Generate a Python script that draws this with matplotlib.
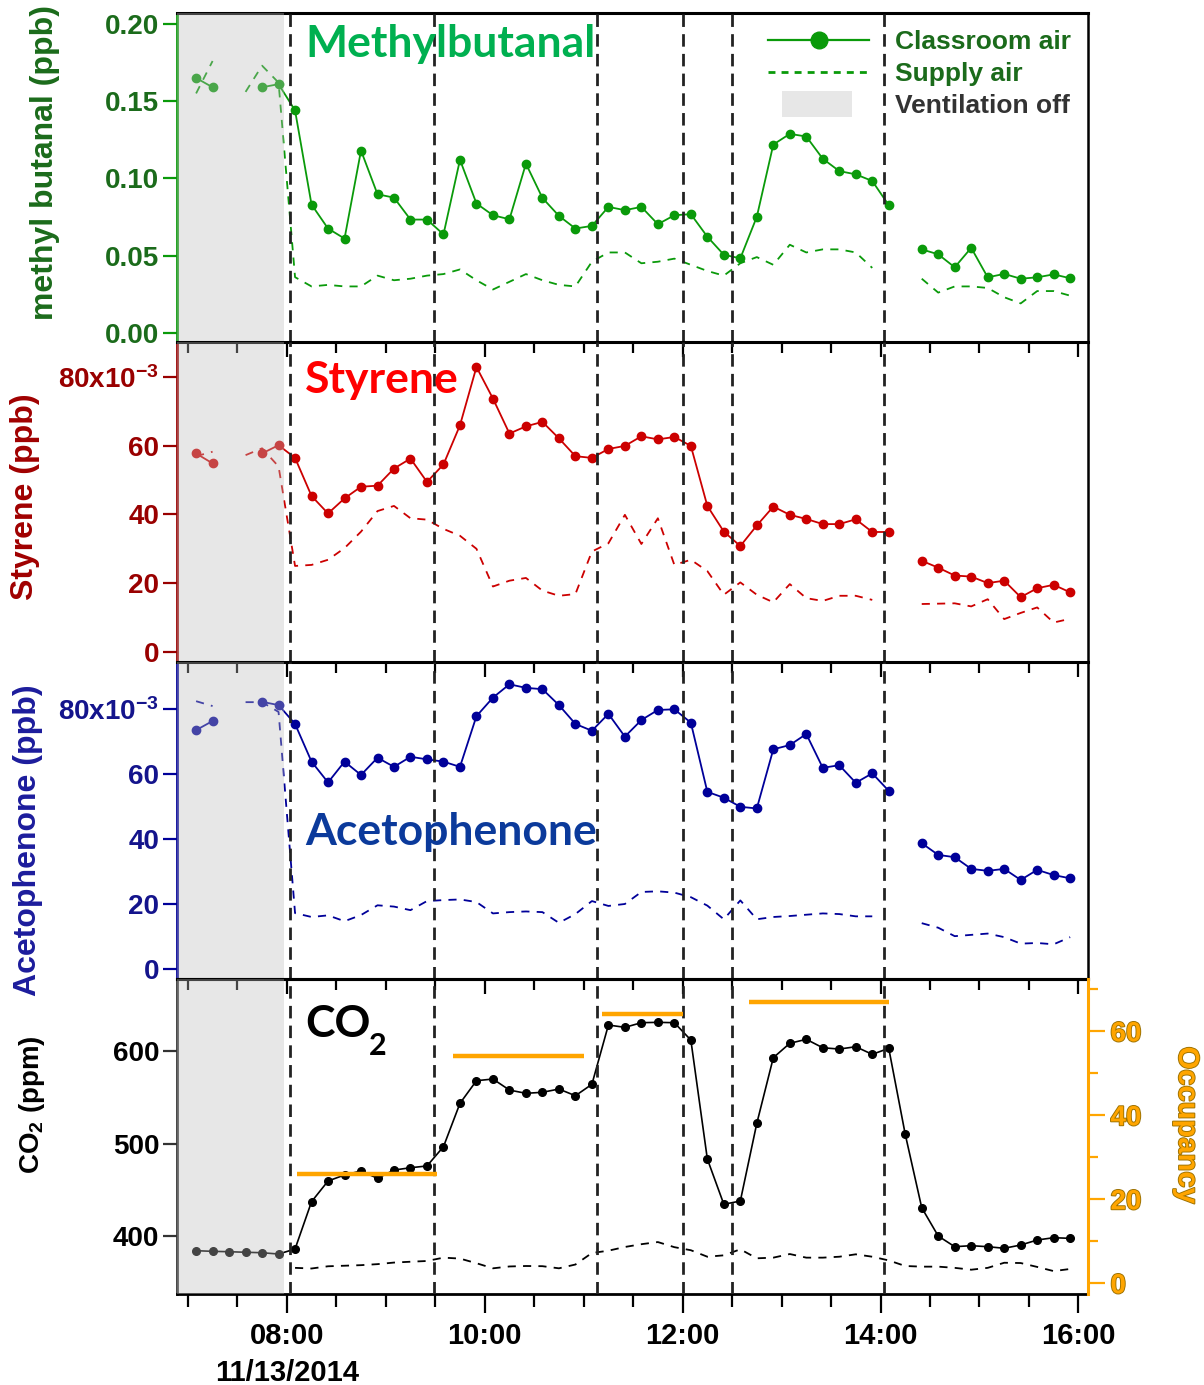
import numpy as np
import matplotlib
matplotlib.use("Agg")
import matplotlib.pyplot as plt
import matplotlib.patches as mpatches
import matplotlib.patheffects as pe
from matplotlib.lines import Line2D
from matplotlib.legend_handler import HandlerPatch
from matplotlib.ticker import FixedLocator, MultipleLocator

nan = np.nan

# ---------------- data ----------------
sample_times = [
    "07:05", "07:15", "07:25", "07:35", "07:45", "07:55",
    "08:05", "08:15", "08:25", "08:35", "08:45", "08:55",
    "09:05", "09:15", "09:25", "09:35", "09:45", "09:55",
    "10:05", "10:15", "10:25", "10:35", "10:45", "10:55",
    "11:05", "11:15", "11:25", "11:35", "11:45", "11:55",
    "12:05", "12:15", "12:25", "12:35", "12:45", "12:55",
    "13:05", "13:15", "13:25", "13:35", "13:45", "13:55",
    "14:05", "14:15", "14:25", "14:35", "14:45", "14:55",
    "15:05", "15:15", "15:25", "15:35", "15:45", "15:55",
]

methylbutanal_room = [
    0.165, 0.159, nan, nan, 0.159, 0.161,
    0.144, 0.083, 0.0675, 0.061, 0.118, 0.0897,
    0.0875, 0.0733, 0.0733, 0.0637, 0.112, 0.0837,
    0.0761, 0.0735, 0.1095, 0.0873, 0.0757, 0.0675,
    0.0692, 0.0815, 0.0794, 0.0815, 0.0703, 0.0761,
    0.0768, 0.0622, 0.0505, 0.0482, 0.0751, 0.1219,
    0.1288, 0.1271, 0.1127, 0.1047, 0.1026, 0.0983,
    0.0826, nan, 0.054, 0.0508, 0.0424, 0.055,
    0.0359, 0.0381, 0.035, 0.0359, 0.0378, 0.0353,
]
methylbutanal_supply = [
    0.155, 0.176, nan, 0.156, 0.173, 0.162,
    0.036, 0.030, 0.031, 0.030, 0.030, 0.037,
    0.034, 0.035, 0.037, 0.038, 0.041, 0.034,
    0.028, 0.033, 0.038, 0.034, 0.031, 0.030,
    0.046, 0.052, 0.052, 0.045, 0.046, 0.048,
    0.044, 0.040, 0.037, 0.045, 0.049, 0.044,
    0.057, 0.052, 0.054, 0.054, 0.052, 0.042,
    nan, nan, 0.035, 0.026, 0.030, 0.030,
    0.029, 0.023, 0.019, 0.027, 0.027, 0.024,
]

# styrene and acetophenone in units of 10^-3 ppb
styrene_room = [
    57.8, 54.9, nan, nan, 57.8, 60.2,
    56.5, 45.4, 40.3, 44.7, 48.1, 48.4,
    53.4, 56.3, 49.5, 54.6, 66.0, 83.0,
    73.8, 63.6, 65.7, 67.0, 62.2, 57.0,
    56.5, 59.1, 60.0, 62.8, 61.9, 62.6,
    60.0, 42.5, 35.0, 30.8, 36.8, 42.3,
    39.9, 38.7, 37.2, 37.2, 38.6, 34.9,
    34.9, nan, 26.5, 24.5, 22.2, 21.9,
    20.0, 20.7, 15.9, 18.5, 19.5, 17.3,
]
styrene_supply = [
    57.0, 58.3, nan, 57.3, 59.3, 54.0,
    25.0, 25.3, 26.8, 30.2, 35.0, 41.0,
    42.5, 38.9, 38.5, 35.8, 33.8, 30.0,
    19.0, 20.7, 21.5, 17.8, 16.3, 16.8,
    29.2, 31.6, 39.9, 31.4, 38.9, 25.3,
    26.8, 23.5, 16.6, 20.2, 16.6, 14.4,
    19.7, 15.6, 14.8, 16.3, 16.3, 15.1,
    nan, nan, 13.9, 14.0, 14.1, 13.2,
    15.3, 9.5, 11.3, 12.9, 8.5, 9.6,
]

acetophenone_room = [
    73.6, 76.4, nan, nan, 82.3, 81.3,
    75.5, 63.9, 57.5, 63.9, 59.8, 65.1,
    62.3, 65.4, 64.6, 63.9, 62.3, 77.9,
    83.6, 87.7, 86.6, 86.2, 81.3, 75.5,
    73.4, 78.6, 71.6, 76.7, 79.8, 80.0,
    75.9, 54.6, 52.8, 50.0, 49.5, 67.7,
    69.0, 72.4, 62.0, 62.8, 57.4, 60.3,
    54.9, nan, 38.8, 35.2, 34.5, 30.9,
    30.3, 30.9, 27.5, 30.6, 29.0, 28.0,
]
acetophenone_supply = [
    82.5, 81.0, nan, 82.2, 82.2, 79.2,
    17.3, 16.1, 16.6, 14.8, 16.7, 19.7,
    19.3, 18.2, 21.0, 21.3, 21.5, 20.7,
    17.2, 17.6, 17.8, 17.6, 14.3, 17.0,
    21.0, 19.5, 20.1, 23.8, 24.0, 23.6,
    22.2, 19.6, 15.4, 21.2, 15.4, 16.1,
    16.4, 16.8, 17.2, 17.0, 16.3, 16.3,
    nan, nan, 14.2, 12.8, 10.2, 10.6,
    11.0, 9.9, 7.9, 8.1, 7.7, 9.9,
]

co2_room = [
    384.5, 383.8, 383.4, 382.8, 382.3, 380.9,
    386.3, 437.3, 459.6, 466.1, 470.4, 462.5,
    471.4, 473.9, 475.8, 496.6, 543.3, 567.7,
    569.5, 557.6, 554.1, 555.2, 558.7, 551.5,
    563.8, 627.7, 625.2, 630.2, 630.6, 630.2,
    611.5, 483.3, 434.5, 438.0, 521.8, 592.5,
    608.0, 612.3, 603.2, 601.8, 604.3, 596.1,
    602.6, 509.9, 430.8, 400.3, 388.8, 389.9,
    388.8, 387.1, 390.6, 396.0, 398.5, 397.8,
]
co2_supply = [
    nan, nan, nan, nan, nan, nan,
    366.0, 365.3, 367.7, 368.3, 368.9, 370.0,
    371.7, 372.6, 373.4, 377.0, 376.0, 371.0,
    365.5, 367.5, 368.0, 367.8, 365.5, 369.6,
    382.0, 384.5, 388.5, 391.5, 393.8, 388.3,
    385.0, 378.0, 379.5, 386.0, 376.3, 377.0,
    380.9, 377.0, 377.0, 378.0, 380.6, 378.0,
    374.0, 368.0, 367.3, 367.3, 366.0, 364.0,
    366.0, 371.5, 371.2, 367.0, 362.5, 364.8,
]

occupancy_start = ["08:06", "09:41", "11:11", "12:40"]
occupancy_end = ["09:31", "11:00", "12:00", "14:05"]
occupancy_value = [26, 54, 64, 67]

event_times = ["08:02", "09:29", "11:08", "12:00", "12:30", "14:02"]
ventilation_off_end = "07:58"

x_start, x_end = "06:53.6", "16:06"
hour_ticks = ["08:00", "10:00", "12:00", "14:00", "16:00"]
hour_tick_labels = ["08:00\n11/13/2014", "10:00", "12:00", "14:00", "16:00"]

legend_labels = ["Classroom air", "Supply air", "Ventilation off"]


def hours(s):
    h, m = s.split(":")
    return int(h) + float(m) / 60.0


t = np.array([hours(s) for s in sample_times])

# ---------------- style ----------------
NARROW = ["Liberation Sans Narrow", "Liberation Sans", "DejaVu Sans"]
TITLEF = ["Lato", "Open Sans", "DejaVu Sans"]
plt.rcParams["font.family"] = NARROW
plt.rcParams["font.weight"] = "bold"
plt.rcParams["mathtext.fontset"] = "custom"
plt.rcParams["mathtext.bf"] = "Liberation Sans:bold"
plt.rcParams["mathtext.rm"] = "Liberation Sans:bold"
plt.rcParams["mathtext.default"] = "bf"

GREEN = "#0A9A0A"
GREEN_DK = "#1B6B1B"
RED = "#CC0000"
RED_DK = "#990000"
BLUE = "#000099"
BLUE_DK = "#14148C"
ORANGE = "#FFA500"
SHADE = "#BEBEBE"
SHADE_A = 0.36

TICK_FS = 20

fig = plt.figure(figsize=(12.04, 13.85), dpi=100)
W_PX, H_PX = 1204.0, 1385.0
LEFT, RIGHT = 177.3, 1088.3


def rect(top, bot):
    return [LEFT / W_PX, 1 - bot / H_PX, (RIGHT - LEFT) / W_PX, (bot - top) / H_PX]


ax1 = fig.add_axes(rect(13.3, 341.7))
ax2 = fig.add_axes(rect(341.7, 661.7))
ax3 = fig.add_axes(rect(661.7, 979.0))
ax4 = fig.add_axes(rect(979.0, 1294.3))
axes = [ax1, ax2, ax3, ax4]

xl = (hours(x_start), hours(x_end))
major = [hours(s) for s in hour_ticks]

for ax in axes:
    ax.set_xlim(*xl)
    ax.axvspan(xl[0], hours(ventilation_off_end), color=SHADE, alpha=SHADE_A,
               lw=0, zorder=4)
    for e in event_times:
        ax.axvline(hours(e), color="#222222", lw=2.0, ls=(0, (4.5, 2.6)), zorder=5)
    ax.xaxis.set_major_locator(FixedLocator(major))
    ax.xaxis.set_minor_locator(MultipleLocator(0.5))
    ax.spines["right"].set_color("black")
    ax.spines["right"].set_linewidth(1.8)
    ax.spines["top"].set_color("black")
    ax.spines["top"].set_linewidth(2.2)
    ax.spines["left"].set_linewidth(2.0)


def series(ax, room, supply, color, lw=1.3, ms=6.0):
    ax.plot(t, room, color=color, lw=lw, marker="o", ms=ms, zorder=3)
    ax.plot(t, supply, color=color, lw=1.3, ls=(0, (4.5, 4.0)), zorder=3)


series(ax1, methylbutanal_room, methylbutanal_supply, GREEN)
series(ax2, styrene_room, styrene_supply, RED)
series(ax3, acetophenone_room, acetophenone_supply, BLUE)
series(ax4, co2_room, co2_supply, "black", lw=1.2, ms=5.5)

ax1.set_ylim(-0.0058, 0.2069)
ax2.set_ylim(-2.92, 90.38)
ax3.set_ylim(-2.98, 94.65)
ax4.set_ylim(337.5, 677.3)

ax1.yaxis.set_major_locator(FixedLocator([0, 0.05, 0.10, 0.15, 0.20]))
ax1.set_yticklabels(["0.00", "0.05", "0.10", "0.15", "0.20"])
for ax in (ax2, ax3):
    ax.yaxis.set_major_locator(FixedLocator([0, 20, 40, 60, 80]))
    ax.set_yticklabels(["0", "20", "40", "60", "80x10$^{-3}$"])
ax4.yaxis.set_major_locator(FixedLocator([400, 500, 600]))
ax4.set_yticklabels(["400", "500", "600"])

for ax, sc, lc in ((ax1, GREEN, GREEN_DK), (ax2, RED_DK, RED_DK),
                   (ax3, BLUE, BLUE_DK), (ax4, "#333333", "black")):
    ax.spines["left"].set_color(sc)
    ax.tick_params(axis="y", which="both", direction="out", length=10, width=1.6,
                   color=sc, labelcolor=lc, labelsize=TICK_FS, pad=3, right=False)

# x ticks
ax1.tick_params(axis="x", which="both", bottom=False, top=False, labelbottom=False)
ax1.spines["bottom"].set_visible(False)
for ax in (ax2, ax3):
    ax.spines["bottom"].set_visible(False)
    ax.xaxis.set_ticks_position("top")
    ax.tick_params(axis="x", which="both", direction="in", width=1.6,
                   labeltop=False, labelbottom=False)
    ax.tick_params(axis="x", which="major", length=11)
    ax.tick_params(axis="x", which="minor", length=8)

ax4.spines["bottom"].set_linewidth(2.0)
ax4.spines["right"].set_visible(False)
ax4.tick_params(axis="x", which="both", direction="out", width=1.6, top=False,
                labelsize=21, pad=6)
ax4.tick_params(axis="x", which="major", length=14)
ax4.tick_params(axis="x", which="minor", length=9)
ax4.set_xticklabels(hour_tick_labels, linespacing=1.4)
sec = ax4.secondary_xaxis("top")
sec.xaxis.set_major_locator(FixedLocator(major))
sec.xaxis.set_minor_locator(MultipleLocator(0.5))
sec.tick_params(axis="x", which="both", direction="in", width=1.6, labeltop=False)
sec.tick_params(axis="x", which="major", length=11)
sec.tick_params(axis="x", which="minor", length=8)
sec.spines["top"].set_linewidth(2.2)

# occupancy axis
ax4r = ax4.twinx()
ax4r.set_ylim(-2.62, 72.45)
for side in ("left", "top", "bottom"):
    ax4r.spines[side].set_visible(False)
ax4r.spines["right"].set_color(ORANGE)
ax4r.spines["right"].set_linewidth(2.2)
ax4r.yaxis.set_major_locator(FixedLocator([0, 20, 40, 60]))
ax4r.yaxis.set_minor_locator(FixedLocator([10, 30, 50, 70]))
ax4r.tick_params(axis="y", which="both", direction="out", color=ORANGE, width=1.6,
                 labelcolor=ORANGE, labelsize=TICK_FS, pad=4)
ax4r.tick_params(axis="y", which="major", length=12)
ax4r.tick_params(axis="y", which="minor", length=7)
stroke = [pe.withStroke(linewidth=1.3, foreground="#9A7000")]
for lab in ax4r.get_yticklabels():
    lab.set_path_effects(stroke)
for s, e, v in zip(occupancy_start, occupancy_end, occupancy_value):
    ax4r.plot([hours(s), hours(e)], [v, v], color=ORANGE, lw=3.2,
              solid_capstyle="butt", zorder=3)

# panel titles
TFS = 32
ax1.text(0.1402, 0.868, "Methylbutanal", transform=ax1.transAxes, color="#00B050",
         fontsize=TFS, fontweight="bold", family=TITLEF, va="baseline", zorder=6)
ax2.text(0.1402, 0.8397, "Styrene", transform=ax2.transAxes, color="#FF0000",
         fontsize=TFS, fontweight="bold", family=TITLEF, va="baseline", zorder=6)
ax3.text(0.1402, 0.4223, "Acetophenone", transform=ax3.transAxes, color="#0B3A9B",
         fontsize=TFS, fontweight="bold", family=TITLEF, va="baseline", zorder=6)
co = ax4.text(0.1402, 0.816, "CO", transform=ax4.transAxes, color="black",
              fontsize=32, fontweight="bold", family=TITLEF, va="baseline", zorder=6)
ax4.annotate("2", xy=(1.0, 0.0), xycoords=co, xytext=(-1, -8), textcoords="offset points",
             fontsize=22, fontweight="bold", family=TITLEF, va="baseline", ha="left")

# y labels
fig.text(45 / W_PX, 1 - 163 / H_PX, "methyl butanal (ppb)", rotation=90, color=GREEN_DK,
         fontsize=23, ha="center", va="center")
fig.text(25 / W_PX, 1 - 497 / H_PX, "Styrene (ppb)", rotation=90, color="#A00000",
         fontsize=23, ha="center", va="center")
fig.text(28 / W_PX, 1 - 840 / H_PX, "Acetophenone (ppb)", rotation=90, color="#1C1C9C",
         fontsize=23, ha="center", va="center")
fig.text(32 / W_PX, 1 - 1105 / H_PX, "CO$_2$ (ppm)", rotation=90, color="black",
         fontsize=20, ha="center", va="center")
occ = fig.text(1187 / W_PX, 1 - 1125 / H_PX, "Occupancy", rotation=270, color=ORANGE,
               fontsize=21, ha="center", va="center")
occ.set_path_effects(stroke)

# legend
def small_rect(legend, orig_handle, xdescent, ydescent, width, height, fontsize):
    return mpatches.Rectangle((-xdescent + 0.13 * width, -ydescent - 0.2 * height),
                              0.7 * width, 1.4 * height)


handles = [
    Line2D([], [], color=GREEN, lw=1.6, marker="o", ms=12),
    Line2D([], [], color=GREEN, lw=2.0, ls=(0, (2.5, 2.2))),
    mpatches.Patch(facecolor=SHADE, alpha=SHADE_A, edgecolor="none"),
]
leg = ax1.legend(handles, legend_labels, loc="upper right", bbox_to_anchor=(1.0, 1.0),
                 frameon=False, fontsize=19, handlelength=3.8, handletextpad=1.0,
                 labelspacing=0.3, borderaxespad=0.25,
                 labelcolor=[GREEN_DK, GREEN_DK, "#333333"],
                 handler_map={mpatches.Patch: HandlerPatch(patch_func=small_rect)})
leg.set_zorder(7)

fig.savefig("out.png", dpi=100)
